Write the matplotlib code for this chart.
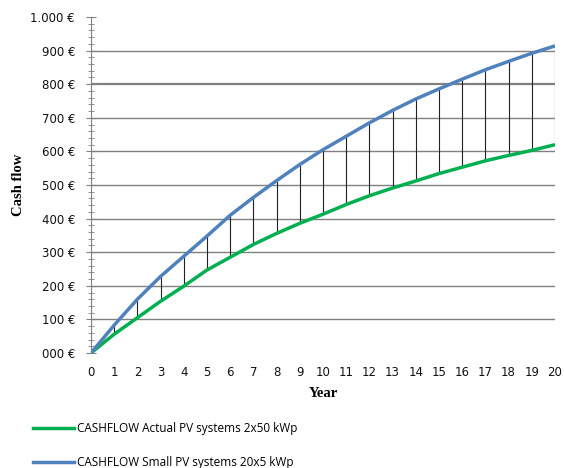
import matplotlib
matplotlib.use("Agg")
import matplotlib.pyplot as plt
from matplotlib.ticker import MultipleLocator, FuncFormatter
from matplotlib.lines import Line2D

years = list(range(0, 21))
actual = [0, 56, 105, 154, 199, 247, 285, 323, 356, 386, 413, 442, 468, 491, 512, 534, 553, 572, 588, 603, 620]
small = [0, 83, 160, 228, 288, 348, 410, 463, 513, 561, 605, 645, 685, 722, 756, 786, 815, 843, 868, 892, 914]
legend_labels = ["CASHFLOW Actual PV systems 2x50 kWp", "CASHFLOW Small PV systems 20x5 kWp"]
y_label = "Cash flow"
x_label = "Year"

GREEN = "#00B050"
BLUE = "#4F81BD"
tick_font = "DejaVu Sans"
legend_font = "Open Sans"

fig = plt.figure(figsize=(5.64, 4.68), dpi=100)
ax = fig.add_axes([91/564, 1-353/468, (555-91)/564, (353-17)/468])

ax.set_xlim(0, 20)
ax.set_ylim(0, 1000)

for v in range(100, 1000, 100):
    ax.axhline(v, color="#808080", lw=1.6 if v == 800 else 1.0, zorder=1)

# drop lines
ax.vlines(years[1:], actual[1:], small[1:], colors="#222222", lw=0.8, zorder=2)

ax.plot(years, actual, color=GREEN, lw=2.5, zorder=3, solid_capstyle="butt")
ax.plot(years, small, color=BLUE, lw=2.5, zorder=3, solid_capstyle="butt")

for s in ["top", "right", "bottom"]:
    ax.spines[s].set_visible(False)
ax.spines["left"].set_color("#808080")

ax.yaxis.set_major_locator(MultipleLocator(100))
ax.yaxis.set_minor_locator(MultipleLocator(20))
def fmt(v, pos):
    v = int(round(v))
    if v >= 1000:
        return "{}.{:03d} €".format(v // 1000, v % 1000)
    return "{:03d} €".format(v)
ax.yaxis.set_major_formatter(FuncFormatter(fmt))
ax.tick_params(axis="y", which="major", direction="inout", length=7, color="#808080", pad=8)
ax.tick_params(axis="y", which="minor", direction="inout", length=4, color="#808080")
ax.set_xticks(years)
ax.tick_params(axis="x", length=0, pad=9)
for lab in ax.get_xticklabels() + ax.get_yticklabels():
    lab.set_fontfamily(tick_font)
    lab.set_fontsize(8.5)
    lab.set_color("#111111")

ax.set_xlabel(x_label, fontfamily="Liberation Serif", fontweight="bold", fontsize=10.5, labelpad=6)
ax.set_ylabel(y_label, fontfamily="Liberation Serif", fontweight="bold", fontsize=10.5)
ax.yaxis.set_label_coords((25 - 91) / 464, 0.5)

handles = [Line2D([], [], color=GREEN, lw=2.5), Line2D([], [], color=BLUE, lw=2.5)]
fig.legend(handles, legend_labels, loc="lower left", bbox_to_anchor=(26/564, -8/468),
           frameon=False, prop={"family": legend_font, "size": 8.5},
           handlelength=3.5, handletextpad=0.2, labelspacing=1.8, borderaxespad=0.2)

fig.savefig("out.png", dpi=100)
